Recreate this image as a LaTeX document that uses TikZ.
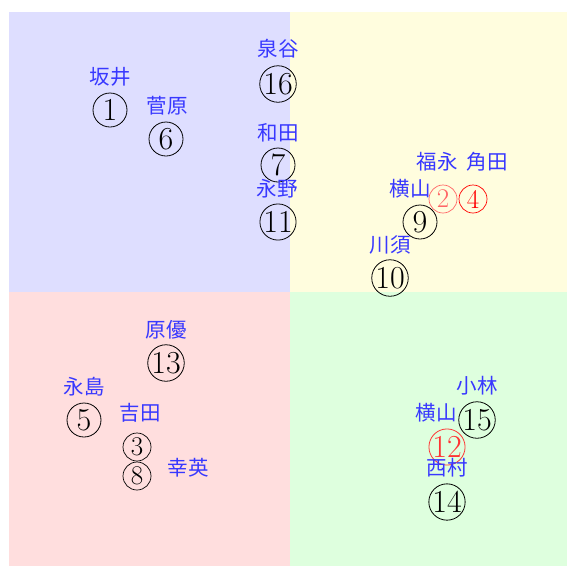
\documentclass[tikz,border=0pt]{standalone}
\usepackage{fontspec}
\newfontfamily\jpfont{Noto Sans CJK JP}
\usepackage{tikz}

\begin{document}
\begin{tikzpicture}[x=1pt,y=-1pt,
  numc/.style={circle,draw,line width=0.8pt,inner sep=0pt,minimum size=34pt,font=\fontsize{32}{32}\selectfont},
  nums/.style={circle,draw,line width=0.7pt,inner sep=0pt,minimum size=28pt,font=\fontsize{27}{27}\selectfont},
  lab/.style={inner sep=0pt,text=blue!78,font=\jpfont\fontsize{20.5}{20.5}\selectfont}]
\useasboundingbox (0,0) rectangle (567,566);
\fill[blue!13] (9,12) rectangle (290,292);
\fill[yellow!13] (290,12) rectangle (567,292);
\fill[red!13] (9,292) rectangle (290,566);
\fill[green!13] (290,292) rectangle (567,566);

\node[numc] (n1) at (110,110) {1};
\node[lab] (l1) at (110,77) {坂井};
\node[numc] (n6) at (166,139) {6};
\node[lab] (l6) at (167,106) {菅原};
\node[numc] (n16) at (278,84) {16};
\node[lab] (l16) at (278,49) {泉谷};
\node[numc] (n7) at (278,165) {7};
\node[lab] (l7) at (278,133) {和田};
\node[numc] (n11) at (278,222) {11};
\node[lab] (l11) at (277,189) {永野};

\node[nums,draw=red!60,text=red!60] (n2) at (443,199) {2};
\node[lab] (l2) at (437,162) {福永};
\node[nums,red] (n4) at (473,199) {4};
\node[lab] (l4) at (487,162) {角田};
\node[numc] (n9) at (420,222) {9};
\node[lab] (l9) at (410,189) {横山};
\node[numc] (n10) at (390,278) {10};
\node[lab] (l10) at (390,245) {川須};

\node[numc] (n13) at (166,363) {13};
\node[lab] (l13) at (166,330) {原優};
\node[numc] (n5) at (84,420) {5};
\node[lab] (l5) at (84,387) {永島};
\node[nums] (n3) at (137,447) {3};
\node[lab] (l3) at (140,413) {吉田};
\node[nums] (n8) at (137,476) {8};
\node[lab] (l8) at (188,468) {幸英};

\node[numc] (n15) at (477,420) {15};
\node[lab] (l15) at (477,386) {小林};
\node[numc,draw=red!80,text=red!80] (n12) at (447,447) {12};
\node[lab] (l12) at (436,413) {横山};
\node[numc] (n14) at (447,502) {14};
\node[lab] (l14) at (447,468) {西村};
\end{tikzpicture}
\end{document}
